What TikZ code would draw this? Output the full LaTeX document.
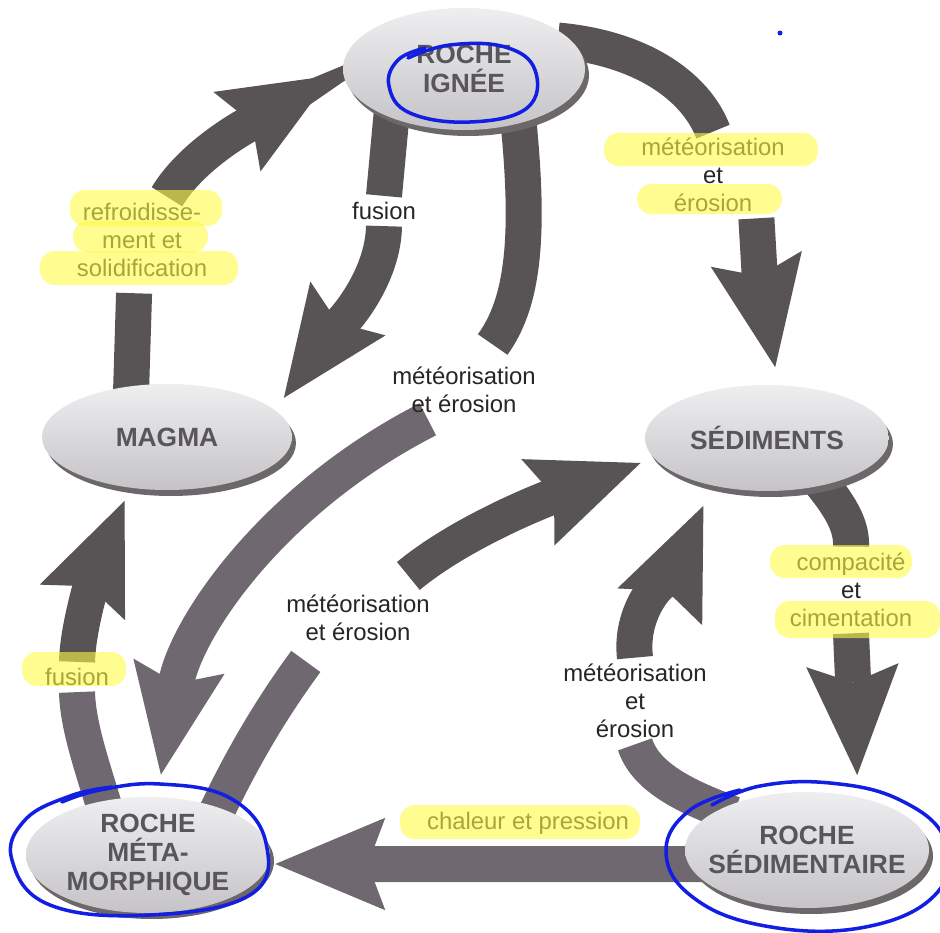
\documentclass[tikz,border=0pt]{standalone}
\usepackage{fontspec}
\setmainfont{Liberation Sans}
\usetikzlibrary{arrows.meta,shapes.geometric,shadows}

\definecolor{arrowgray}{RGB}{88,84,86}
\definecolor{arrowmauve}{RGB}{112,104,112}
\definecolor{rockfill}{RGB}{214,212,216}
\definecolor{rockedge}{RGB}{108,104,106}
\definecolor{rocktext}{RGB}{88,86,90}
\definecolor{marker}{RGB}{255,250,70}
\definecolor{pen}{RGB}{18,30,225}

\pgfdeclarelayer{paper}
\pgfdeclarelayer{bands}
\pgfsetlayers{paper,bands,main}

\tikzset{
	rock/.style={ellipse, minimum width=4.88cm, minimum height=2.12cm,
		inner xsep=-1.6cm, inner ysep=-0.6cm,
		top color=rockfill!40!white, bottom color=rockfill!92!black,
		copy shadow={shadow xshift=0.08cm, shadow yshift=-0.12cm, fill=rockedge, draw=none},
		font=\fontsize{15}{16.5}\selectfont\bfseries, text=rocktext, align=center},
	lbl/.style={font=\fontsize{13.6}{16}\selectfont, text=black!85, align=center, inner sep=0.12cm},
	band/.style={line width=0.72cm, draw=#1},
	band/.default=arrowgray,
	bigarrow/.style={band=#1, -{Stealth[length=2.2cm, width=1.85cm, inset=0.35cm, line width=0pt]}},
	bigarrow/.default=arrowgray,
	highlight/.style={fill=marker, fill opacity=0.6, rounded corners=0.3cm},
	penline/.style={draw=pen, line width=2pt, line cap=round, line join=round}
}

\begin{document}
\begin{tikzpicture}[x=0.02cm, y=-0.02cm]
	% paper
	\begin{pgfonlayer}{paper}
		\fill[white] (0,0) rectangle (940,933);
	\end{pgfonlayer}
	\useasboundingbox (0,0) rectangle (940,933);
	% rocks
	\node[rock, minimum width=4.84cm, minimum height=2.44cm] (ign) at (464,69) {ROCHE\\IGNÉE};
	\node[rock, minimum width=5cm] (mag) at (167,437) {MAGMA};
	\node[rock] (sed) at (767,438) {SÉDIMENTS};
	\node[rock, minimum height=2.32cm] (met) at (148,855) {ROCHE\\MÉTA-\\MORPHIQUE};
	\node[rock, minimum height=2.32cm] (sedi) at (807,850) {ROCHE\\SÉDIMENTAIRE};
	% labels
	\node[lbl] (lref) at (142,240) {refroidisse-\\ment et\\solidification};
	\node[lbl] (lfus1) at (384,211) {fusion};
	\node[lbl] (lmet0) at (713,175) {météorisation\\et\\érosion};
	\node[lbl] (lmet1) at (464,390) {météorisation\\et érosion};
	\node[lbl] (lmet2) at (358,618) {météorisation\\et érosion};
	\node[lbl] (lcom) at (851,590) {compacité\\et\\cimentation};
	\node[lbl] (lfus2) at (77,677) {fusion};
	\node[lbl] (lmet3) at (635,701) {météorisation\\et\\érosion};
	\node[lbl] (lchal) at (528,823) {chaleur et pression};
	% arrows
	\begin{pgfonlayer}{bands}
		% refroidissement et solidification
		\draw[band, shorten <=-0.3cm, shorten >=0.2cm] (mag.125) -- (lref.-100);
		\draw[bigarrow, shorten >=0.26cm] (lref.60) .. controls (195,150) and (260,118) .. (ign.west);
		% fusion
		\draw[band, shorten <=-0.3cm] (ign.214) -- (lfus1.north);
		\draw[bigarrow, shorten >=0.3cm] (lfus1.south) .. controls (383,290) and (321,346) .. (mag.14);
		% meteorisation, ignee -> metamorphique
		\draw[band, shorten <=-0.3cm, shorten >=0.4cm] (ign.315) .. controls (530,230) and (525,300) .. (lmet1.60);
		\draw[bigarrow=arrowmauve, shorten >=0.45cm] (lmet1.219) .. controls (270,500) and (185,630) .. (met.81);
		% meteorisation, metamorphique -> sediments
		\draw[band=arrowmauve, shorten <=-0.3cm, shorten >=0.35cm] (met.34) .. controls (250,740) and (285,690) .. (lmet2.215);
		\draw[bigarrow, shorten <=0.4cm, shorten >=0.28cm] (lmet2.40) .. controls (470,525) and (570,490) .. (sed.190);
		% chaleur et pression
		\draw[bigarrow=arrowmauve, shorten >=0.1cm] ([yshift=-0.28cm]sedi.center) -- ([yshift=-0.18cm]met.east);
		% meteorisation, sedimentaire -> sediments
		\draw[band=arrowmauve, shorten <=-0.3cm] (sedi.155) .. controls (680,795) and (645,775) .. (lmet3.south);
		\draw[bigarrow, shorten >=0.44cm] (lmet3.north) .. controls (628,600) and (680,560) .. (sed.221);
		% compacite et cimentation
		\draw[band, shorten <=-0.3cm] (sed.-40) .. controls (840,505) and (852,525) .. (lcom.north);
		\draw[bigarrow, shorten >=0.44cm] (lcom.south) -- (sedi.46);
		% meteorisation, ignee -> sediments
		\draw[band, shorten <=-0.3cm] (ign.14) .. controls (640,48) and (695,85) .. (lmet0.north);
		\draw[bigarrow, shorten >=0.36cm] (lmet0.-45) .. controls (760,280) .. (sed.78);
		% fusion, metamorphique -> magma
		\draw[band=arrowmauve, shorten <=-0.3cm] (met.130) .. controls (90,760) and (78,725) .. (lfus2.south);
		\draw[bigarrow, shorten >=0.28cm] (lfus2.north) .. controls (78,620) and (100,560) .. (mag.234);
	\end{pgfonlayer}
	% highlighter
	\fill[highlight] (70,190) rectangle (222,226);
	\fill[highlight] (73,221) rectangle (208,252);
	\fill[highlight] (40,251) rectangle (238,285);
	\fill[highlight] (604,133) rectangle (818,166);
	\fill[highlight] (637,184) rectangle (782,214);
	\fill[highlight] (770,545) rectangle (912,578);
	\fill[highlight] (775,601) rectangle (940,638);
	\fill[highlight] (22,652) rectangle (126,686);
	\fill[highlight] (400,805) rectangle (640,839);
	% pen
	\draw[penline] plot[smooth, tension=0.7] coordinates {(408,58) (450,45) (505,47) (535,70) (527,108) (470,122) (410,113) (389,86) (398,60) (425,48)};
	\draw[penline] plot[smooth, tension=0.7] coordinates {(62,802) (100,790) (160,784) (230,798) (266,843) (250,895) (150,915) (50,905) (12,860) (25,820) (70,796) (112,787)};
	\draw[penline] plot[smooth, tension=0.7] coordinates {(712,805) (760,786) (830,783) (900,800) (945,840) (935,895) (860,928) (760,925) (690,895) (666,850) (690,810) (740,790)};
	\fill[pen] (780,33) circle[radius=0.05cm];
\end{tikzpicture}
\end{document}
